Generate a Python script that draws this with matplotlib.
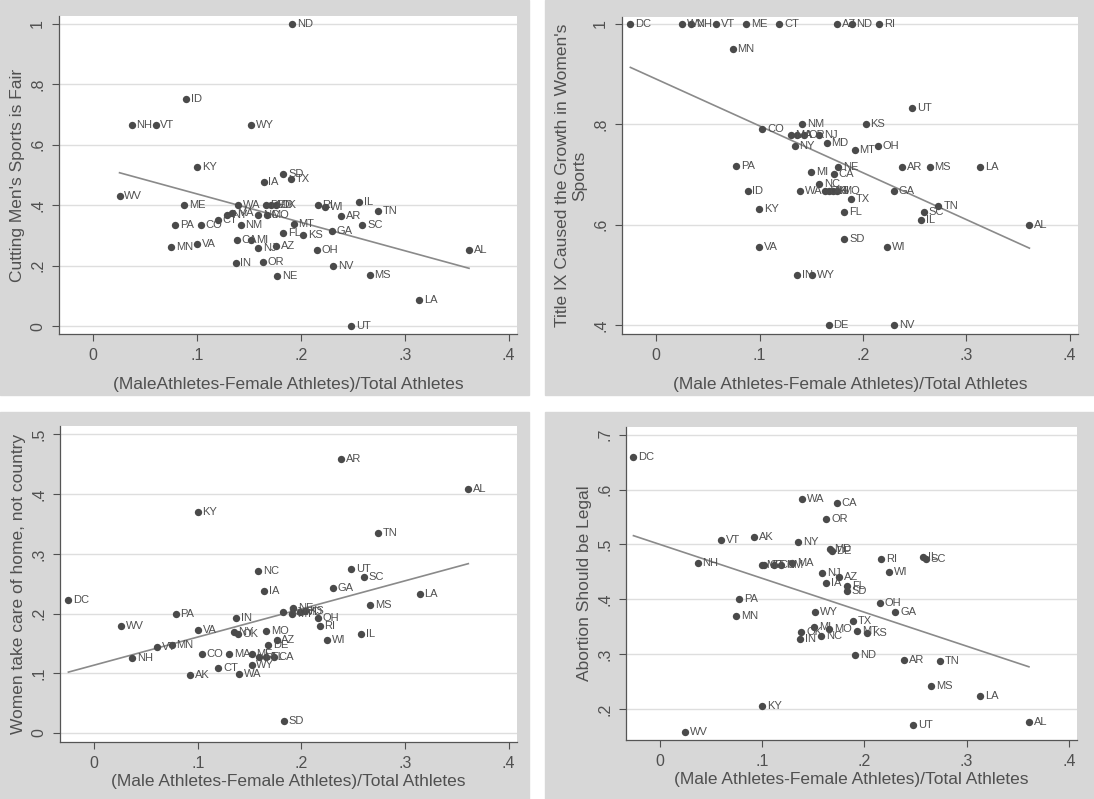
import matplotlib
matplotlib.use("Agg")
import matplotlib.pyplot as plt
import numpy as np
from matplotlib.patches import Rectangle

plt.rcParams['font.family'] = ['Liberation Sans', 'DejaVu Sans']

# panel 1: cutting men's sports is fair
states1 = ["ND", "ID", "NH", "VT", "WY", "KY", "SD", "IA", "TX", "WV", "ME", "PA", "CO", "MN", "VA",
           "CT", "NY", "MA", "WA", "DE", "MD", "OK", "NM", "NC", "MO", "CA", "MI", "NJ", "AZ", "IN",
           "OR", "NE", "RI", "WI", "IL", "AR", "TN", "SC", "MT", "FL", "KS", "GA", "OH", "NV", "MS",
           "LA", "AL", "UT"]
x1 = [0.1915, 0.089, 0.037, 0.060, 0.1516, 0.100, 0.183, 0.164, 0.190, 0.0253, 0.0874, 0.0785, 0.1034, 0.0748, 0.0998,
      0.120, 0.129, 0.134, 0.139, 0.166, 0.171, 0.176, 0.142, 0.159, 0.167, 0.138, 0.152, 0.159, 0.176, 0.137,
      0.163, 0.177, 0.216, 0.223, 0.256, 0.239, 0.274, 0.259, 0.193, 0.183, 0.202, 0.230, 0.2155, 0.231, 0.266,
      0.3136, 0.3618, 0.248]
y1 = [1.0, 0.75, 0.666, 0.666, 0.666, 0.525, 0.503, 0.477, 0.485, 0.430, 0.401, 0.335, 0.335, 0.262, 0.273,
      0.351, 0.368, 0.373, 0.401, 0.401, 0.401, 0.401, 0.335, 0.368, 0.368, 0.285, 0.285, 0.257, 0.265, 0.210,
      0.213, 0.166, 0.401, 0.395, 0.409, 0.365, 0.381, 0.335, 0.337, 0.309, 0.302, 0.313, 0.250, 0.200, 0.168,
      0.086, 0.251, 0.0]

# panel 2: title IX caused growth
states2 = ["DC", "WV", "NH", "VT", "ME", "CT", "AZ", "ND", "RI", "MN", "UT", "NM", "KS", "CO", "MA",
           "IA", "OR", "NJ", "MD", "NY", "MT", "OH", "PA", "NE", "MI", "CA", "AR", "MS", "LA", "NC",
           "ID", "WA", "OK", "AK", "HI", "MO", "GA", "TX", "KY", "FL", "TN", "SC", "IL", "AL", "SD",
           "VA", "WI", "IN", "WY", "DE", "NV"]
x2 = [-0.0249, 0.0251, 0.0338, 0.058, 0.0868, 0.119, 0.1746, 0.189, 0.216, 0.0739, 0.2475, 0.141, 0.2026, 0.1028, 0.130,
      0.136, 0.143, 0.158, 0.165, 0.134, 0.192, 0.2145, 0.0776, 0.176, 0.150, 0.172, 0.238, 0.2645, 0.313, 0.158,
      0.0885, 0.139, 0.163, 0.167, 0.171, 0.175, 0.2298, 0.188, 0.0997, 0.182, 0.273, 0.259, 0.256, 0.361, 0.182,
      0.0997, 0.2237, 0.136, 0.151, 0.1668, 0.2305]
y2 = [1.0, 1.0, 1.0, 1.0, 1.0, 1.0, 1.0, 1.0, 1.0, 0.95, 0.833, 0.80, 0.80, 0.79, 0.778,
      0.778, 0.778, 0.778, 0.763, 0.756, 0.749, 0.756, 0.717, 0.715, 0.705, 0.700, 0.715, 0.715, 0.715, 0.681,
      0.668, 0.668, 0.668, 0.668, 0.668, 0.668, 0.668, 0.652, 0.631, 0.6245, 0.638, 0.625, 0.610, 0.600, 0.5715,
      0.556, 0.556, 0.500, 0.500, 0.400, 0.400]

# panel 3: women take care of home
states3 = ["AR", "AL", "KY", "TN", "NC", "UT", "SC", "IA", "GA", "LA", "DC", "MS", "PA", "WV", "IN",
           "VA", "NY", "OK", "MO", "AZ", "DE", "NJ", "NE", "MT", "MD", "KS", "OH", "RI", "WI", "IL",
           "MN", "VT", "NH", "CO", "MA", "ME", "MI", "FL", "CA", "CT", "WY", "AK", "WA", "SD"]
x3 = [0.2382, 0.361, 0.0997, 0.274, 0.158, 0.248, 0.260, 0.164, 0.230, 0.314, -0.0249, 0.2664, 0.0787, 0.0256, 0.137,
      0.1003, 0.1346, 0.1385, 0.166, 0.176, 0.168, 0.1824, 0.1917, 0.1907, 0.199, 0.203, 0.2156, 0.2176, 0.2243, 0.2575,
      0.0748, 0.0605, 0.0365, 0.1037, 0.130, 0.1518, 0.1595, 0.166, 0.1734, 0.1196, 0.1518, 0.0924, 0.1395, 0.1827]
y3 = [0.458, 0.409, 0.370, 0.335, 0.271, 0.274, 0.261, 0.238, 0.242, 0.233, 0.223, 0.214, 0.199, 0.180, 0.192,
      0.173, 0.169, 0.165, 0.171, 0.156, 0.148, 0.202, 0.210, 0.200, 0.203, 0.2045, 0.193, 0.179, 0.155, 0.165,
      0.147, 0.144, 0.125, 0.132, 0.132, 0.132, 0.127, 0.127, 0.127, 0.1095, 0.1145, 0.0966, 0.0994, 0.0196]

# panel 4: abortion should be legal
states4 = ["DC", "WA", "CA", "OR", "VT", "AK", "NY", "MD", "DE", "NH", "ME", "CT", "CO", "NM", "MA",
           "NJ", "AZ", "IA", "FL", "SD", "RI", "WI", "IL", "SC", "PA", "OH", "GA", "MN", "WY", "TX",
           "MI", "MO", "OK", "MT", "KS", "NC", "IN", "ND", "AR", "TN", "MS", "LA", "KY", "UT", "AL", "WV"]
x4 = [-0.0257, 0.139, 0.173, 0.163, 0.060, 0.092, 0.135, 0.166, 0.168, 0.037, 0.0995, 0.102, 0.112, 0.119, 0.1297,
      0.159, 0.1753, 0.163, 0.183, 0.183, 0.2165, 0.224, 0.2576, 0.260, 0.0775, 0.2154, 0.2302, 0.0748, 0.152, 0.189,
      0.1513, 0.1657, 0.1383, 0.193, 0.2027, 0.158, 0.137, 0.1914, 0.2388, 0.2738, 0.2655, 0.313, 0.0998, 0.248, 0.361, 0.025]
y4 = [0.659, 0.583, 0.575, 0.546, 0.508, 0.513, 0.505, 0.492, 0.488, 0.467, 0.463, 0.463, 0.463, 0.463, 0.467,
      0.448, 0.440, 0.429, 0.424, 0.416, 0.473, 0.449, 0.477, 0.473, 0.400, 0.394, 0.377, 0.370, 0.377, 0.361,
      0.350, 0.345, 0.341, 0.342, 0.339, 0.333, 0.327, 0.298, 0.290, 0.287, 0.242, 0.224, 0.206, 0.171, 0.176, 0.159]

# fitted line (slope, intercept)
fit_slope = [-0.9385, -0.931, 0.4705, -0.618]
fit_intercept = [0.5307, 0.8897, 0.1137, 0.5001]

ylabels = ["Cutting Men's Sports is Fair",
           "Title IX Caused the Growth in Women's\nSports",
           "Women take care of home, not country",
           "Abortion Should be Legal"]
xlabels = ["(MaleAthletes-Female Athletes)/Total Athletes",
           "(Male Athletes-Female Athletes)/Total Athletes",
           "(Male Athletes-Female Athletes)/Total Athletes",
           "(Male Athletes-Female Athletes)/Total Athletes"]
yticks = [[0, 0.2, 0.4, 0.6, 0.8, 1], [0.4, 0.6, 0.8, 1],
          [0, 0.1, 0.2, 0.3, 0.4, 0.5], [0.2, 0.3, 0.4, 0.5, 0.6, 0.7]]
xticks = [0, 0.1, 0.2, 0.3, 0.4]

TXT = '#505050'
MK = '#4a4a4a'
BG = '#d7d7d7'


def fmt(v):
    s = ('%g' % v)
    if s.startswith('0.'):
        s = s[1:]
    return s


def draw_panel(ax, states, x, y, k, ylims, xpad):
    ax.set_facecolor('white')
    for t in yticks[k]:
        ax.axhline(t, color='#dedede', lw=1.0, zorder=0)
    ax.scatter(x, y, s=28, color=MK, zorder=3, linewidths=0)
    for s, xx, yy in zip(states, x, y):
        ax.annotate(s, (xx, yy), xytext=(3.5, 0), textcoords='offset points',
                    fontsize=8, color=TXT, va='center', ha='left', zorder=4)
    xf = np.array([min(x), max(x)])
    ax.plot(xf, fit_intercept[k] + fit_slope[k] * xf, color='#8a8a8a', lw=1.2, zorder=2)

    ax.set_xlim(-0.033, 0.408)
    ax.set_ylim(*ylims)
    ax.set_xticks(xticks)
    ax.set_xticklabels([fmt(v) for v in xticks])
    ax.set_yticks(yticks[k])
    ax.set_yticklabels([fmt(v) for v in yticks[k]], rotation=90, va='center')
    ax.tick_params(colors=TXT, labelsize=11.5, length=5, width=0.8, direction='out', pad=5)
    for side in ['top', 'right']:
        ax.spines[side].set_visible(False)
    for side in ['left', 'bottom']:
        ax.spines[side].set_color('#555555')
        ax.spines[side].set_linewidth(0.9)
    ax.set_xlabel(xlabels[k], fontsize=12.5, color=TXT, labelpad=xpad)
    ax.set_ylabel(ylabels[k], fontsize=12.5, color=TXT, labelpad=4)


fig = plt.figure(figsize=(10.94, 7.99), dpi=100)
W, H = 1094.0, 799.0

# grey panel backgrounds
for (px, py, pw, ph) in [(0, 0, 529, 395), (545, 0, 549, 395), (0, 412, 529, 387), (545, 412, 549, 387)]:
    fig.patches.append(Rectangle((px / W, 1 - (py + ph) / H), pw / W, ph / H,
                                 transform=fig.transFigure, color=BG, zorder=-10))

boxes = [(59, 16, 517, 334), (622, 17, 1078, 334), (60, 426, 517, 742), (626, 427, 1077, 740)]
lims = [(-0.026, 1.025), (0.383, 1.013), (-0.015, 0.514), (0.1436, 0.714)]
xpads = [10, 10, 2, 2]
data = [(states1, x1, y1), (states2, x2, y2), (states3, x3, y3), (states4, x4, y4)]

for k in range(4):
    l, t, r, b = boxes[k]
    ax = fig.add_axes([l / W, 1 - b / H, (r - l) / W, (b - t) / H])
    st, xx, yy = data[k]
    draw_panel(ax, st, xx, yy, k, lims[k], xpads[k])

plt.savefig("out.png", dpi=100)
